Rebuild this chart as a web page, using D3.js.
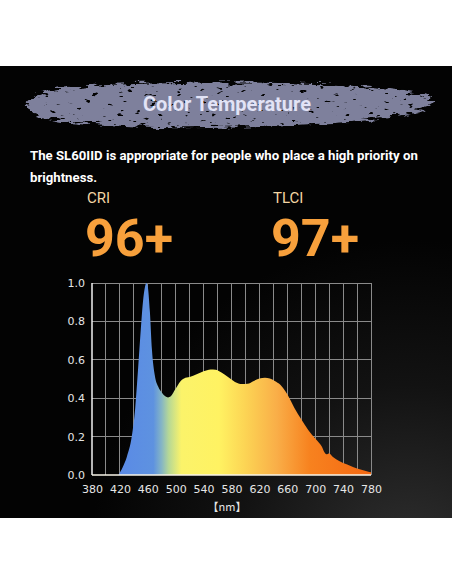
<!DOCTYPE html>
<html>
<head>
<meta charset="utf-8">
<style>
  body { margin: 0; background: #fff; }
  .grid line { stroke: #8a8a8a; stroke-width: 1; shape-rendering: crispEdges; }
  .axis text { fill: #e6e6e6; font-family: 'DejaVu Sans', sans-serif; font-size: 11px; }
  .axis path, .axis line { display: none; }
</style>
</head>
<body>
<div id="chart"></div>
<script src="https://d3js.org/d3.v7.min.js"></script>
<script>
// spectrum (wavelength nm, relative power)
var wavelengths = [418, 424, 430, 437, 442, 446, 450, 453, 456, 458, 460, 463, 466, 470, 475, 480, 485, 489, 493, 500, 506, 512, 520, 530, 540, 550, 557, 565, 575, 585, 595, 603, 612, 620, 628, 635, 642, 650, 660, 670, 680, 690, 700, 706, 710, 713, 716, 720, 725, 735, 745, 755, 765, 775, 780];
var power = [0, 0.04, 0.095, 0.2, 0.35, 0.55, 0.76, 0.9, 0.98, 1.0, 0.98, 0.85, 0.65, 0.52, 0.46, 0.43, 0.41, 0.404, 0.41, 0.45, 0.485, 0.503, 0.51, 0.525, 0.54, 0.55, 0.548, 0.535, 0.51, 0.485, 0.474, 0.475, 0.49, 0.502, 0.506, 0.503, 0.49, 0.47, 0.42, 0.35, 0.29, 0.235, 0.19, 0.165, 0.145, 0.12, 0.108, 0.112, 0.095, 0.072, 0.056, 0.041, 0.028, 0.018, 0.014];

var xTicks = d3.range(380, 781, 40);
var yTicks = [0, 0.2, 0.4, 0.6, 0.8, 1.0];

// fill colour along the wavelength axis
var colorStops = [
  { nm: 420, color: '#5a8ae6' },
  { nm: 468, color: '#5e92e0' },
  { nm: 480, color: '#86b6c4' },
  { nm: 490, color: '#b6d896' },
  { nm: 508, color: '#fbf36a' },
  { nm: 562, color: '#fff262' },
  { nm: 600, color: '#fcd454' },
  { nm: 645, color: '#f9ae48' },
  { nm: 692, color: '#f7821f' },
  { nm: 780, color: '#f56812' }
];

var width = 452, height = 584;
var top0 = 66, side = 452;

var svg = d3.select('#chart').append('svg')
    .attr('width', width)
    .attr('height', height);

var defs = svg.append('defs');

var bg = defs.append('radialGradient')
    .attr('id', 'bg')
    .attr('gradientUnits', 'userSpaceOnUse')
    .attr('cx', 410).attr('cy', 560).attr('r', 320);
bg.append('stop').attr('offset', 0).attr('stop-color', '#303030');
bg.append('stop').attr('offset', 0.55).attr('stop-color', '#121212');
bg.append('stop').attr('offset', 1).attr('stop-color', '#030303');

// rough edges + a few dark speckles for the brush stroke
var rough = defs.append('filter').attr('id', 'rough')
    .attr('x', '-10%').attr('y', '-40%').attr('width', '120%').attr('height', '180%');
rough.append('feTurbulence').attr('type', 'fractalNoise').attr('baseFrequency', '0.08 0.3').attr('numOctaves', 3).attr('seed', 4).attr('result', 'n');
rough.append('feDisplacementMap').attr('in', 'SourceGraphic').attr('in2', 'n').attr('scale', 12).attr('xChannelSelector', 'R').attr('yChannelSelector', 'G').attr('result', 'd');
rough.append('feTurbulence').attr('type', 'fractalNoise').attr('baseFrequency', '0.12 0.3').attr('numOctaves', 2).attr('seed', 9).attr('result', 's');
rough.append('feColorMatrix').attr('in', 's').attr('type', 'matrix')
    .attr('values', '0 0 0 0 0  0 0 0 0 0  0 0 0 0 0  14 0 0 0 -9.6').attr('result', 'specks');
rough.append('feComposite').attr('in', 'd').attr('in2', 'specks').attr('operator', 'out');

svg.append('rect')
    .attr('x', 0).attr('y', top0)
    .attr('width', side).attr('height', side)
    .attr('fill', 'url(#bg)');

// brush stroke behind the title
var brush = [[26, 106], [42, 93], [90, 86], [180, 83], [280, 83], [370, 87], [418, 94], [434, 101], [420, 110], [360, 121], [260, 126], [160, 127], [80, 123], [38, 116]];
svg.append('path')
    .attr('d', d3.line().curve(d3.curveCardinalClosed)(brush))
    .attr('fill', '#7e809c')
    .attr('filter', 'url(#rough)');

svg.append('text')
    .attr('x', 227).attr('y', 111)
    .attr('text-anchor', 'middle')
    .attr('fill', '#e2e3f6')
    .style('font-family', 'Roboto, sans-serif')
    .style('font-weight', 700)
    .style('font-size', '20px')
    .text('Color Temperature');

var sub = svg.append('text')
    .attr('fill', '#fff')
    .style('font-family', 'Roboto, sans-serif')
    .style('font-weight', 700)
    .style('font-size', '13.2px');
sub.append('tspan').attr('x', 30).attr('y', 160).text('The SL60IID is appropriate for people who place a high priority on');
sub.append('tspan').attr('x', 30).attr('y', 182).text('brightness.');

var scores = [
  { label: 'CRI', value: '96+', x: 87 },
  { label: 'TLCI', value: '97+', x: 273 }
];
var sc = svg.selectAll('g.score').data(scores).enter().append('g').attr('class', 'score');
sc.append('text')
    .attr('x', function (d) { return d.x; }).attr('y', 203)
    .attr('fill', '#f4d6a4')
    .style('font-family', 'Roboto, sans-serif')
    .style('font-size', '15px')
    .text(function (d) { return d.label; });
sc.append('text')
    .attr('x', function (d) { return d.x - 2; }).attr('y', 256)
    .attr('fill', '#f7a03c')
    .style('font-family', 'Roboto, sans-serif')
    .style('font-weight', 700)
    .style('font-size', '52px')
    .text(function (d) { return d.value; });

// chart
var x = d3.scaleLinear().domain([380, 780]).range([92, 371]);
var y = d3.scaleLinear().domain([0, 1]).range([475, 283]);

var grid = svg.append('g').attr('class', 'grid');
grid.selectAll('line.v').data(d3.range(400, 781, 20)).enter().append('line')
    .attr('x1', function (d) { return x(d); }).attr('x2', function (d) { return x(d); })
    .attr('y1', y(1)).attr('y2', y(0));
grid.selectAll('line.h').data(yTicks.slice(1)).enter().append('line')
    .attr('x1', x(380)).attr('x2', x(780))
    .attr('y1', function (d) { return y(d); }).attr('y2', function (d) { return y(d); });

var grad = defs.append('linearGradient')
    .attr('id', 'spec')
    .attr('gradientUnits', 'userSpaceOnUse')
    .attr('x1', x(380)).attr('x2', x(780)).attr('y1', 0).attr('y2', 0);
grad.selectAll('stop').data(colorStops).enter().append('stop')
    .attr('offset', function (d) { return (d.nm - 380) / 400; })
    .attr('stop-color', function (d) { return d.color; });

var pts = wavelengths.map(function (w, i) { return [w, power[i]]; });
var area = d3.area()
    .curve(d3.curveMonotoneX)
    .x(function (d) { return x(d[0]); })
    .y0(y(0))
    .y1(function (d) { return y(d[1]); });

svg.append('path')
    .datum(pts)
    .attr('d', area)
    .attr('fill', 'url(#spec)');

// axis frame
svg.append('line')
    .attr('x1', x(380)).attr('x2', x(380)).attr('y1', y(1)).attr('y2', y(0))
    .attr('stroke', '#f2f2f2').attr('stroke-width', 1.5);
svg.append('line')
    .attr('x1', x(380)).attr('x2', x(780)).attr('y1', y(0)).attr('y2', y(0))
    .attr('stroke', '#f8f4e8').attr('stroke-width', 1.5);

svg.append('g')
    .attr('class', 'axis')
    .attr('transform', 'translate(0,' + y(0) + ')')
    .call(d3.axisBottom(x).tickValues(xTicks).tickSize(0).tickPadding(10).tickFormat(d3.format('d')));

svg.append('g')
    .attr('class', 'axis')
    .attr('transform', 'translate(' + x(380) + ',0)')
    .call(d3.axisLeft(y).tickValues(yTicks).tickSize(0).tickPadding(7).tickFormat(d3.format('.1f')));

svg.append('text')
    .attr('x', 227).attr('y', 511)
    .attr('text-anchor', 'middle')
    .attr('fill', '#e6e6e6')
    .style('font-family', "'Noto Sans CJK SC', sans-serif")
    .style('font-size', '11px')
    .text('【nm】');
</script>
</body>
</html>
